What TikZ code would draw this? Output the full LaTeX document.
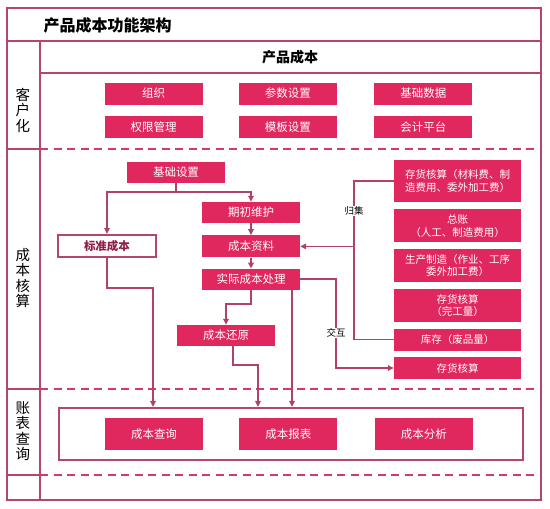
\documentclass[tikz,border=0pt]{standalone}
\usepackage{fontspec}
\setmainfont{Noto Sans CJK SC}
\usetikzlibrary{arrows.meta,positioning}
\definecolor{FrameRose}{HTML}{B5446E}
\definecolor{DashRose}{HTML}{D8376C}
\definecolor{BoxRose}{HTML}{E0285F}
\definecolor{LineRose}{HTML}{B0416B}
\definecolor{DeepRose}{HTML}{8E1F45}
\tikzset{
  PB/.style={rectangle,fill=BoxRose,text=white,inner sep=1pt,
             minimum width=98pt,minimum height=22pt,
             text centered,align=center,
             font=\fontsize{11.5}{13}\selectfont},
  pR/.style={PB,minimum width=127pt,font=\fontsize{10.5}{12.5}\selectfont},
  pW/.style={PB,fill=white,draw=FrameRose,line width=2pt,text=DeepRose,
             font=\fontsize{11.5}{13}\selectfont\bfseries},
  side/.style={align=center,inner sep=0pt,font=\fontsize{14.5}{15.5}\selectfont},
  frame/.style={draw=FrameRose,line width=2pt},
  sepline/.style={draw=DashRose,line width=2pt,dash pattern=on 8pt off 5.5pt},
  ln/.style={draw=LineRose,line width=1.7pt},
  arr/.style={ln,-{Triangle[length=6pt,width=5.5pt]}},
  LB/.style={fill=white,inner sep=0.5pt,font=\fontsize{9.5}{10}\selectfont}
}
\begin{document}
\begin{tikzpicture}[x=1pt,y=-1pt]
  \useasboundingbox (0,0) rectangle (550,509);
  % frame and bands
  \draw[frame] (7,8) rectangle (541,500);
  \draw[frame] (7,41) -- (541,41);
  \draw[frame] (40,73) -- (541,73);
  \draw[frame] (40,41) -- (40,500);
  \foreach \yy in {149,389,475}{
    \draw[frame] (7,\yy) -- (40,\yy);
    \draw[sepline] (40,\yy) -- (541,\yy);
  }

  \node[anchor=west,font=\fontsize{16}{18}\selectfont\bfseries] (title) at (40,25) {产品成本功能架构};
  \node[font=\fontsize{14}{16}\selectfont\bfseries] (head) at (290,57) {产品成本};

  \node[side] (custom) at (23,110) {客\\户\\化};
  \node[side] (calc) at (23,278) {成\\本\\核\\算};
  \node[side] (query) at (23,431) {账\\表\\查\\询};

  % customisation
  \node[PB] (org) at (153.5,93.5) {组织};
  \node[PB,right=36pt of org] (param) {参数设置};
  \node[PB,right=37pt of param] (basedata) {基础数据};
  \node[PB,below=11pt of org] (perm) {权限管理};
  \node[PB,below=11pt of param] (tmpl) {模板设置};
  \node[PB,below=11pt of basedata] (acct) {会计平台};

  % cost accounting
  \node[PB,minimum height=21pt] (setup) at (176,172.5) {基础设置};
  \node[pW] (std) at (107,246) {标准成本};
  \node[PB,minimum height=21pt] (opening) at (251,212.5) {期初维护};
  \node[PB,below=12pt of opening] (costdata) {成本资料};
  \node[PB,minimum height=21pt,below=11pt of costdata] (actual) {实际成本处理};
  \node[PB,minimum height=21pt] (restore) at (226,335.5) {成本还原};

  \node[pR,minimum height=42pt] (invmat) at (457.5,181) {存货核算（材料费、制\\造费用、委外加工费）};
  \node[pR,minimum height=33pt,below=7pt of invmat] (ledger) {总账\\（人工、制造费用）};
  \node[pR,minimum height=33pt,below=6pt of ledger] (prod) {生产制造（作业、工序\\委外加工费）};
  \node[pR,minimum height=33pt,below=7pt of prod] (invdone) {存货核算\\（完工量）};
  \node[pR,below=6pt of invdone] (stock) {库存（废品量）};
  \node[pR,below=6pt of stock] (invcalc) {存货核算};

  % reports
  \node[draw=FrameRose,line width=2.2pt,minimum width=464pt,minimum height=52pt] (repbox) at (291,434) {};
  \node[PB,minimum height=32pt] (rquery) at (154,434) {成本查询};
  \node[PB,minimum height=32pt,right=36pt of rquery] (rreport) {成本报表};
  \node[PB,minimum height=32pt,right=37pt of rreport] (ranalysis) {成本分析};

  % connectors
  \coordinate (split) at (176,192);
  \draw[ln] (setup) -- (split);
  \draw[arr] (split) -| (std);
  \draw[arr] (split) -| (opening);
  \draw[arr] (opening) -- (costdata);
  \draw[arr] (costdata) -- (actual);
  \draw[arr] (actual.south) -- ++(0,14) -| (restore);
  \draw[arr] ([xshift=7pt]restore.south) -- ++(0,19) -| (258,0 |- repbox.north);
  \draw[arr] (std.south) -- ++(0,30) -| (153,0 |- repbox.north);
  \draw[arr] (292,0 |- actual.south) -- (292,0 |- repbox.north);

  \coordinate (gather) at (354,0 |- invmat.west);
  \draw[ln] (invmat.west) -- (gather) |- (stock.west);
  \draw[arr] (gather |- costdata.east) -- (costdata.east);
  \node[LB] (gatherlbl) at (354,211) {归集};
  \draw[arr] (actual.east) -- ++(36,0) |- (invcalc.west);
  \node[LB] (swaplbl) at (336,333) {交互};
\end{tikzpicture}
\end{document}
